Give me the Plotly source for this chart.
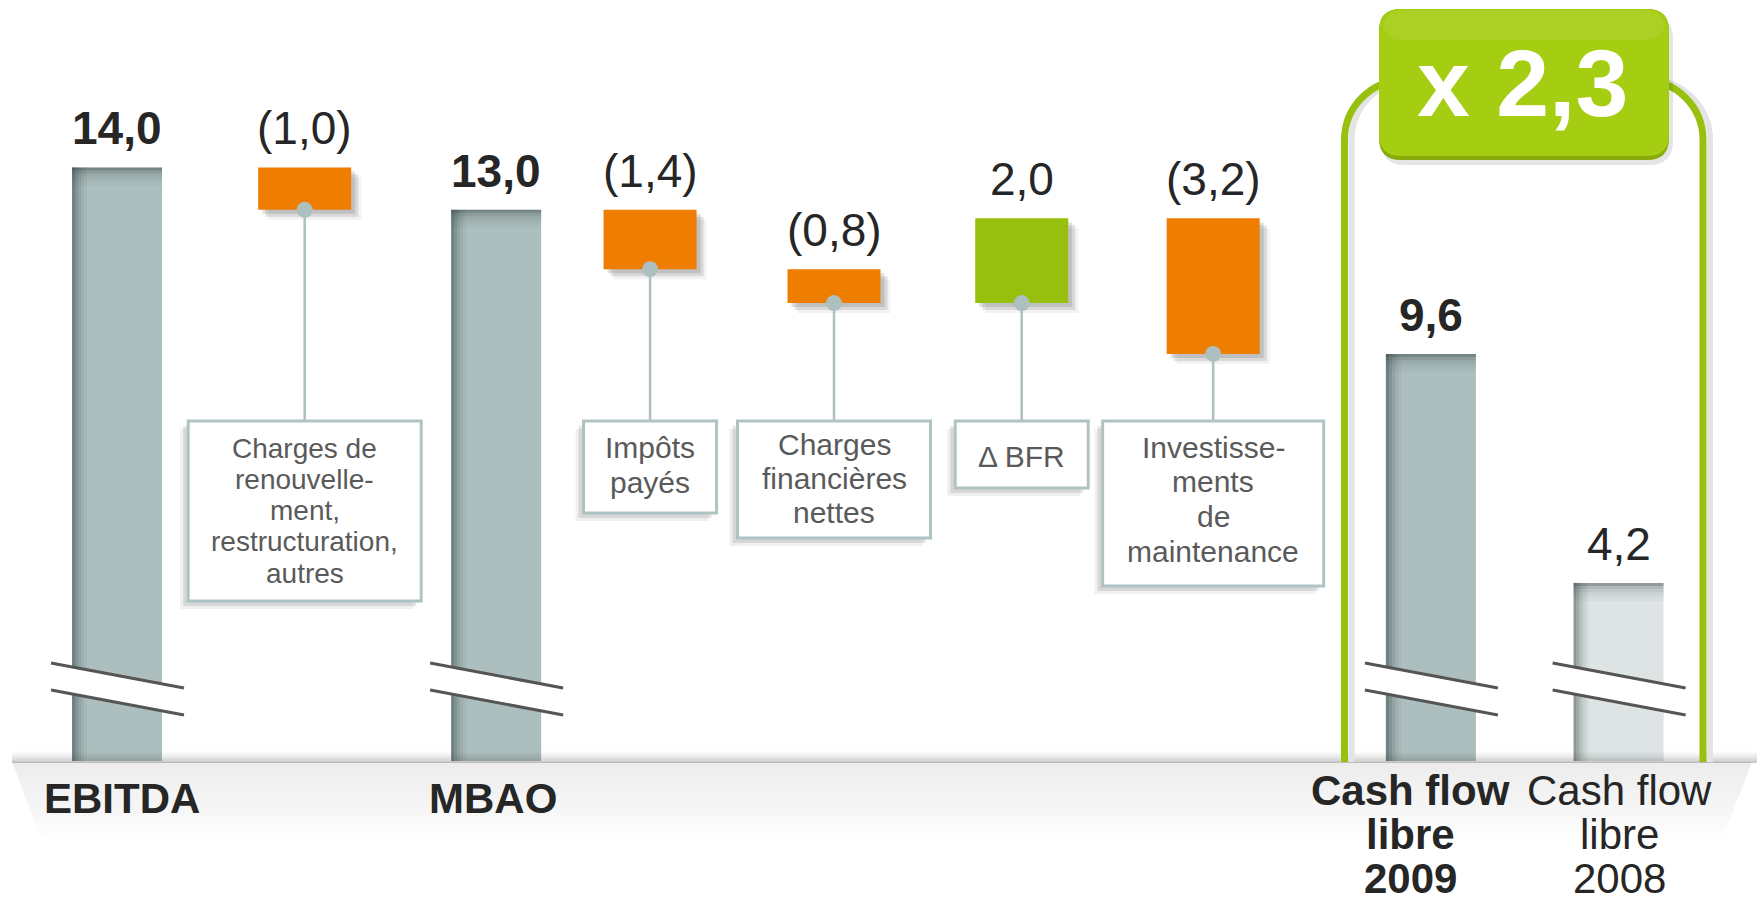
import plotly.graph_objects as go

# ---------------- data ----------------
categories = ["EBITDA", "Charges de renouvellement, restructuration, autres", "MBAO",
              "Impôts payés", "Charges financières nettes", "Δ BFR",
              "Investissements de maintenance", "Cash flow libre 2009", "Cash flow libre 2008"]
kinds = ["total", "delta", "total", "delta", "delta", "delta", "delta", "total", "total"]
values = [14.0, -1.0, 13.0, -1.4, -0.8, 2.0, -3.2, 9.6, 4.2]
value_bold = [True, False, True, False, False, False, False, True, False]

box_labels = {
    1: ["Charges de", "renouvelle-", "ment,", "restructuration,", "autres"],
    3: ["Impôts", "payés"],
    4: ["Charges", "financières", "nettes"],
    5: ["Δ BFR"],
    6: ["Investisse-", "ments", "de", "maintenance"],
}
axis_labels = {
    0: ["EBITDA"],
    2: ["MBAO"],
    7: ["Cash flow", "libre", "2009"],
    8: ["Cash flow", "libre", "2008"],
}
axis_bold = {0: True, 2: True, 7: True, 8: False}

# ---------------- layout constants ----------------
W, H = 1757, 902
X0_PX, X_UNIT = 117.0, 187.7      # pixel of slot 0, pixels per slot
Y0_PX, Y_UNIT = 761.0, 42.4       # pixel of value 0, pixels per value unit
slots = [0, 1, 2.02, 2.84, 3.82, 4.82, 5.84, 7, 8]
BOX_TOP_PX = 421
FONT = "Liberation Sans, Arial, sans-serif"

ORANGE = "#ee7d00"
GREEN = "#97bf0d"
GRAY = "#acbebd"
LIGHT = "#dde4e3"
CONN = "#adbfbf"
BOXLINE = "#b0c3c3"
TXT = "#262626"
BOXTXT = "#5a5a5a"
BRACKET = "#98c00e"


def dx(px):
    return (px - X0_PX) / X_UNIT


def dy(py):
    return (Y0_PX - py) / Y_UNIT


def pp(px, py):
    return f"{px / W:.5f},{1 - py / H:.5f}"


BOX_TOP = dy(BOX_TOP_PX)

# ---------------- waterfall geometry from data ----------------
bases, heights, tops = [], [], []
running = 0.0
for k, v in zip(kinds, values):
    if k == "total":
        lo, hi = 0.0, v
        running = v
    else:
        new = running + v
        lo, hi = min(running, new), max(running, new)
        running = new
    bases.append(lo)
    heights.append(hi - lo)
    tops.append(hi)

colors = []
for i, (k, v) in enumerate(zip(kinds, values)):
    if k == "total":
        colors.append(LIGHT if i == len(values) - 1 else GRAY)
    else:
        colors.append(ORANGE if v < 0 else GREEN)

GW = 90 / X_UNIT
DW = 93 / X_UNIT
widths = [GW if k == "total" else DW for k in kinds]

tot_idx = [i for i, k in enumerate(kinds) if k == "total"]
del_idx = [i for i, k in enumerate(kinds) if k == "delta"]

fig = go.Figure()

# floor strip
fx = [dx(12), dx(1752), dx(1722), dx(42), dx(12)]
fy = [dy(762), dy(762), dy(840), dy(840), dy(762)]
fig.add_trace(go.Scatter(x=fx, y=fy, mode="none", fill="toself",
                         fillgradient=dict(type="vertical",
                                           colorscale=[[0, "#ffffff"], [0.35, "#f7f7f7"], [1, "#ececec"]]),
                         hoverinfo="skip"))

# drop shadows of delta bars
for off, a in [(10, 0.06), (7, 0.12), (4, 0.14)]:
    fig.add_trace(go.Bar(
        x=[slots[i] for i in del_idx], y=[heights[i] for i in del_idx],
        base=[bases[i] - off / Y_UNIT for i in del_idx],
        width=DW, offset=-DW / 2 + off / X_UNIT,
        marker=dict(color=f"rgba(40,40,40,{a})", line=dict(width=0)), hoverinfo="skip"))

# main bars
fig.add_trace(go.Bar(x=slots, y=heights, base=bases, width=widths,
                     marker=dict(color=colors, line=dict(width=0)), hoverinfo="skip"))

# inner shading of total bars (left edge, top edge)
SW = 3 / X_UNIT
for j, a in enumerate([0.45, 0.32, 0.2, 0.11, 0.05]):
    fig.add_trace(go.Bar(
        x=[slots[i] for i in tot_idx], y=[heights[i] for i in tot_idx], base=0,
        width=SW, offset=-GW / 2 + j * SW,
        marker=dict(color=f"rgba(40,55,55,{a})", line=dict(width=0)), hoverinfo="skip"))
SH = 3 / Y_UNIT
for j, a in enumerate([0.42, 0.25, 0.16, 0.1, 0.06, 0.03]):
    fig.add_trace(go.Bar(
        x=[slots[i] for i in tot_idx], y=[SH] * len(tot_idx),
        base=[tops[i] - (j + 1) * SH for i in tot_idx],
        width=GW,
        marker=dict(color=f"rgba(40,55,55,{a})", line=dict(width=0)), hoverinfo="skip"))

# connectors from delta bars to their label boxes
cx, cy = [], []
for i in del_idx:
    cx += [slots[i], slots[i], None]
    cy += [bases[i], BOX_TOP, None]
fig.add_trace(go.Scatter(x=cx, y=cy, mode="lines", line=dict(color=CONN, width=2.5), hoverinfo="skip"))
fig.add_trace(go.Scatter(x=[slots[i] for i in del_idx], y=[bases[i] for i in del_idx], mode="markers",
                         marker=dict(color=CONN, size=16, line=dict(width=0)), hoverinfo="skip"))

shapes = []
# floor top shadow
for j, a in enumerate([0.02, 0.05, 0.09, 0.14, 0.2, 0.27]):
    shapes.append(dict(type="rect", xref="paper", yref="paper", layer="above",
                       x0=12 / W, x1=1.0, y0=1 - (751 + 2 * j + 2) / H, y1=1 - (751 + 2 * j) / H,
                       fillcolor=f"rgba(60,60,60,{a})", line=dict(width=0)))

# axis break marks on total bars
for i in tot_idx:
    common = dict(xref="x", yref="y", xsizemode="pixel", ysizemode="pixel",
                  xanchor=slots[i], yanchor=0, layer="above")
    shapes.append(dict(type="path", path="M -66,98 L 67,73 L 67,46 L -66,71 Z",
                       fillcolor="white", line=dict(width=0), **common))
    shapes.append(dict(type="path", path="M -66,98 L 67,73", line=dict(color="#555555", width=3), **common))
    shapes.append(dict(type="path", path="M -66,71 L 67,46", line=dict(color="#555555", width=3), **common))

# green bracket around the cash-flow comparison
L, R, T, r = 1344.5, 1703.0, 80.0, 60.0
kk = 0.5523 * r


def bracket_path(o):
    return (f"M {pp(L + o, 762)} L {pp(L + o, T + r)} C {pp(L + o, T + r - kk)} {pp(L + o + r - kk, T)} "
            f"{pp(L + o + r, T)} L {pp(R + o - r, T)} C {pp(R + o - r + kk, T)} {pp(R + o, T + r - kk)} "
            f"{pp(R + o, T + r)} L {pp(R + o, 762)}")


shapes.append(dict(type="path", xref="paper", yref="paper", layer="above", path=bracket_path(7),
                   line=dict(color="#e4e4e4", width=6)))
shapes.append(dict(type="path", xref="paper", yref="paper", layer="above", path=bracket_path(0),
                   line=dict(color=BRACKET, width=7)))


def rrect(x1, y1, x2, y2, rr):
    return (f"M {pp(x1 + rr, y1)} L {pp(x2 - rr, y1)} Q {pp(x2, y1)} {pp(x2, y1 + rr)} "
            f"L {pp(x2, y2 - rr)} Q {pp(x2, y2)} {pp(x2 - rr, y2)} L {pp(x1 + rr, y2)} "
            f"Q {pp(x1, y2)} {pp(x1, y2 - rr)} L {pp(x1, y1 + rr)} Q {pp(x1, y1)} {pp(x1 + rr, y1)} Z")


shapes.append(dict(type="path", xref="paper", yref="paper", layer="above",
                   path=rrect(1381, 15, 1673, 165, 24), fillcolor="rgba(0,0,0,0.10)", line=dict(width=0)))
shapes.append(dict(type="path", xref="paper", yref="paper", layer="above",
                   path=rrect(1379, 9, 1669, 160, 22), fillcolor="#88aa0c", line=dict(width=0)))
shapes.append(dict(type="path", xref="paper", yref="paper", layer="above",
                   path=rrect(1379, 9, 1669, 156, 22), fillcolor="#a5cd12", line=dict(width=0)))
shapes.append(dict(type="path", xref="paper", yref="paper", layer="above",
                   path=rrect(1383, 10, 1665, 40, 20), fillcolor="rgba(255,255,255,0.08)", line=dict(width=0)))

# label boxes (width, height, font size, first line offset, line spacing)
box_geom = {1: (233, 180, 28, 27, 31.3), 3: (133, 92, 30, 26, 35.0), 4: (193, 117, 30, 23, 34.3),
            5: (133, 67, 30, 35, 34.0), 6: (221, 165, 30, 26, 34.7)}
annotations = []
for i, lines in box_labels.items():
    w, h, fs, first, sp = box_geom[i]
    common = dict(xref="x", yref="y", xsizemode="pixel", ysizemode="pixel",
                  xanchor=slots[i], yanchor=BOX_TOP, layer="above")
    for off, a in [(8, 0.07), (5, 0.12)]:
        shapes.append(dict(type="rect", x0=-w / 2 - off, x1=w / 2 - off, y0=-off, y1=-h - off,
                           fillcolor=f"rgba(40,40,40,{a})", line=dict(width=0), **common))
    shapes.append(dict(type="rect", x0=-w / 2, x1=w / 2, y0=0, y1=-h,
                       fillcolor="white", line=dict(color=BOXLINE, width=3), **common))
    for n, t in enumerate(lines):
        annotations.append(dict(x=slots[i], y=BOX_TOP, xref="x", yref="y", text=t, showarrow=False,
                                xanchor="center", yanchor="middle", yshift=-(first + n * sp),
                                font=dict(family=FONT, size=fs, color=BOXTXT)))


# value labels
def fmt(v, k):
    s = f"{abs(v):.1f}".replace(".", ",")
    return f"({s})" if (k == "delta" and v < 0) else s


for i, (k, v) in enumerate(zip(kinds, values)):
    annotations.append(dict(x=slots[i], y=tops[i], xref="x", yref="y", text=fmt(v, k), showarrow=False,
                            xanchor="center", yanchor="middle", yshift=39,
                            font=dict(family=FONT, size=46, color=TXT,
                                      weight="bold" if value_bold[i] else "normal")))

# category labels on the floor
axis_first = {0: 798, 2: 798, 7: 790, 8: 790}
axis_xshift = {0: 5, 2: -3, 7: -20, 8: 1}
for i, lines in axis_labels.items():
    for n, t in enumerate(lines):
        annotations.append(dict(x=slots[i], y=1 - (axis_first[i] + 44 * n) / H, xref="x", yref="paper",
                                text=t, showarrow=False, xanchor="center", yanchor="middle",
                                xshift=axis_xshift[i],
                                font=dict(family=FONT, size=42, color=TXT,
                                          weight="bold" if axis_bold[i] else "normal")))

# multiplier badge
ratio = values[7] / values[8]
annotations.append(dict(x=1522 / W, y=1 - 83 / H, xref="paper", yref="paper",
                        text="x " + f"{ratio:.1f}".replace(".", ","), showarrow=False,
                        xanchor="center", yanchor="middle",
                        font=dict(family=FONT, size=95, color="white", weight="bold")))

fig.update_layout(
    width=W, height=H, margin=dict(l=0, r=0, t=0, b=0),
    paper_bgcolor="white", plot_bgcolor="white",
    barmode="overlay", showlegend=False,
    xaxis=dict(range=[dx(0), dx(W)], visible=False, fixedrange=True),
    yaxis=dict(range=[dy(H), dy(0)], visible=False, fixedrange=True),
    shapes=shapes, annotations=annotations,
)

fig.write_html("out.html", config={"displayModeBar": False},
               post_script="document.body.style.margin='0';document.body.style.overflow='hidden';")
